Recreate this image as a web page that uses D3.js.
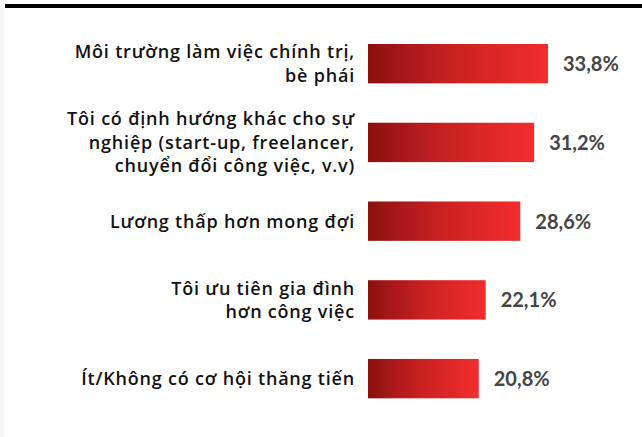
<!DOCTYPE html>
<html>
<head>
<meta charset="utf-8">
<script src="https://cdn.jsdelivr.net/npm/d3@7"></script>
<style>
  html, body { margin: 0; padding: 0; background: #ffffff; }
  svg { display: block; }
</style>
</head>
<body>
<svg id="chart" width="642" height="437"></svg>
<script>
// Reasons for leaving a job (share of respondents, %)
const categories = [
  ["Môi trường làm việc chính trị,", "bè phái"],
  ["Tôi có định hướng khác cho sự", "nghiệp (start-up, freelancer,", "chuyển đổi công việc, v.v)"],
  ["Lương thấp hơn mong đợi"],
  ["Tôi ưu tiên gia đình", "hơn công việc"],
  ["Ít/Không có cơ hội thăng tiến"]
];
const values = [33.8, 31.2, 28.6, 22.1, 20.8];
const valueLabels = ["33,8%", "31,2%", "28,6%", "22,1%", "20,8%"];

const W = 642, H = 437;
const svg = d3.select("#chart");

// page frame: faint left edge and black rule across the top
svg.append("rect").attr("x", 0).attr("y", 8).attr("width", 4).attr("height", H - 8).attr("fill", "#f7f7f7");
svg.append("rect").attr("x", 5).attr("y", 4).attr("width", W - 5).attr("height", 4).attr("fill", "#000");

const defs = svg.append("defs");
const grad = defs.append("linearGradient")
  .attr("id", "barGrad")
  .attr("x1", "0").attr("y1", "0").attr("x2", "1").attr("y2", "0");
grad.append("stop").attr("offset", "0%").attr("stop-color", "#8a100e");
grad.append("stop").attr("offset", "20%").attr("stop-color", "#a8171a");
grad.append("stop").attr("offset", "50%").attr("stop-color", "#cc2222");
grad.append("stop").attr("offset", "100%").attr("stop-color", "#f22d2d");

const idx = d3.range(values.length);

const x = d3.scaleLinear().domain([0, 40]).range([368, 368 + 213]);
const y = d3.scaleBand().domain(idx).range([24.3, 418]).paddingInner(0.5).paddingOuter(0.25);

// bars
svg.append("g").selectAll("rect")
  .data(idx)
  .join("rect")
  .attr("x", x(0))
  .attr("y", i => y(i))
  .attr("width", i => x(values[i]) - x(0))
  .attr("height", y.bandwidth())
  .attr("fill", "url(#barGrad)");

// value labels
svg.append("g").selectAll("text")
  .data(idx)
  .join("text")
  .attr("x", i => x(values[i]) + 15)
  .attr("y", i => y(i) + y.bandwidth() / 2 + 7.5)
  .attr("font-family", "Lato, sans-serif")
  .attr("font-weight", 700)
  .attr("font-size", 20)
  .attr("fill", "#454545")
  .text(i => valueLabels[i]);

// category labels, right-aligned next to the bars
const lineH = 23.5;
const labels = svg.append("g").selectAll("text")
  .data(idx)
  .join("text")
  .attr("text-anchor", "end")
  .attr("font-family", "'Open Sans', sans-serif")
  .attr("font-weight", 600)
  .attr("font-size", 18)
  .attr("letter-spacing", 0.8)
  .attr("fill", "#111");

labels.each(function(i) {
  const lines = categories[i];
  const cy = y(i) + y.bandwidth() / 2;
  const first = cy - (lines.length - 1) * lineH / 2 + 6.5;
  d3.select(this).selectAll("tspan")
    .data(lines)
    .join("tspan")
    .attr("x", 355)
    .attr("y", (d, k) => first + k * lineH)
    .text(d => d);
});
</script>
</body>
</html>
